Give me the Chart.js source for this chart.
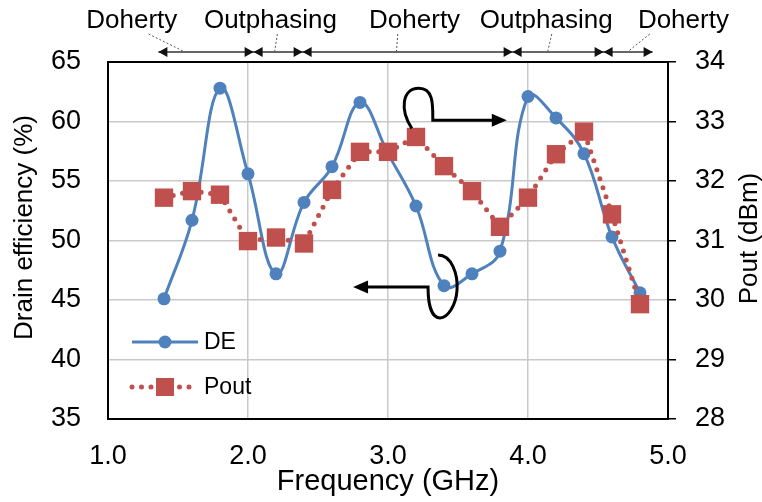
<!DOCTYPE html>
<html>
<head>
<meta charset="utf-8">
<script src="https://cdn.jsdelivr.net/npm/chart.js@4.4.1/dist/chart.umd.min.js"></script>
<style>
  html, body { margin: 0; padding: 0; background: #fff; }
  #wrap { width: 762px; height: 502px; }
</style>
</head>
<body>
<div id="wrap"><canvas id="chart" width="762" height="502"></canvas></div>
<script>
// frequency points (GHz)
const freqs = [1.4, 1.6, 1.8, 2.0, 2.2, 2.4, 2.6, 2.8, 3.0, 3.2, 3.4, 3.6, 3.8, 4.0, 4.2, 4.4, 4.6, 4.8];
// drain efficiency (%)
const deValues = [45.1, 51.7, 62.8, 55.6, 47.2, 53.2, 56.2, 61.6, 57.3, 52.9, 46.2, 47.2, 49.1, 62.1, 60.3, 57.3, 50.3, 45.6];
// output power (dBm)
const poutValues = [31.72, 31.83, 31.77, 30.99, 31.05, 30.95, 31.85, 32.49, 32.49, 32.74, 32.25, 31.83, 31.23, 31.72, 32.45, 32.83, 31.44, 29.93];

// operating modes along the top
const modeNames = ["Doherty", "Outphasing", "Doherty", "Outphasing", "Doherty"];
const modeBounds = [1.36, 2.04, 2.39, 3.89, 4.54, 4.89];
const modeLabelAt = [1.17, 2.16, 3.19, 4.13, 5.11];
const leaderTop = [1.29, 2.21, 3.07, 4.17, 4.87];
const leaderBottom = [1.55, 2.19, 3.06, 4.14, 4.71];

const deColor = "#4f81bd";
const poutColor = "#c0504d";
const gridColor = "#c9c9c9";
const fontFamily = "'Liberation Sans', Arial, sans-serif";

function arrowHead(ctx, x, y, dir, len, half) {
  ctx.beginPath();
  ctx.moveTo(x, y);
  ctx.lineTo(x - dir * len, y - half);
  ctx.lineTo(x - dir * len, y + half);
  ctx.closePath();
  ctx.fill();
}

const decorPlugin = {
  id: "decor",
  beforeDatasetsDraw(chart) {
    const { ctx, chartArea: a } = chart;
    ctx.save();
    ctx.strokeStyle = "#000";
    ctx.lineWidth = 2;
    ctx.strokeRect(a.left, a.top, a.right - a.left, a.bottom - a.top);
    ctx.restore();
  },
  afterDatasetsDraw(chart) {
    const { ctx, chartArea: a, scales } = chart;
    const X = v => scales.x.getPixelForValue(v);
    const Y = v => scales.yDE.getPixelForValue(v);
    ctx.save();

    // mode ranges above the plot
    const lineY = a.top - 10;
    ctx.strokeStyle = "#333";
    ctx.fillStyle = "#111";
    ctx.lineWidth = 1.5;
    ctx.beginPath();
    ctx.moveTo(X(modeBounds[0]), lineY);
    ctx.lineTo(X(modeBounds[modeBounds.length - 1]), lineY);
    ctx.stroke();
    for (let i = 0; i < modeNames.length; i++) {
      arrowHead(ctx, X(modeBounds[i]), lineY, -1, 9, 5);
      arrowHead(ctx, X(modeBounds[i + 1]), lineY, 1, 9, 5);
    }
    ctx.fillStyle = "#000";
    ctx.font = "26px " + fontFamily;
    ctx.textAlign = "center";
    ctx.textBaseline = "alphabetic";
    modeNames.forEach((name, i) => ctx.fillText(name, X(modeLabelAt[i]), lineY - 24));
    ctx.strokeStyle = "#555";
    ctx.lineWidth = 1;
    ctx.setLineDash([2, 2]);
    for (let i = 0; i < modeNames.length; i++) {
      ctx.beginPath();
      ctx.moveTo(X(leaderTop[i]), lineY - 18);
      ctx.lineTo(X(leaderBottom[i]), lineY);
      ctx.stroke();
    }
    ctx.setLineDash([]);

    // curved arrow pointing to the Pout axis
    ctx.strokeStyle = "#000";
    ctx.fillStyle = "#000";
    ctx.lineWidth = 3;
    let p = { x: X(3.32), y: Y(60.1) };
    ctx.beginPath();
    ctx.moveTo(p.x - 21, p.y + 8);
    ctx.bezierCurveTo(p.x - 33, p.y - 10, p.x - 31, p.y - 32, p.x - 14, p.y - 32);
    ctx.bezierCurveTo(p.x + 1, p.y - 32, p.x, p.y - 15, p.x, p.y);
    ctx.lineTo(p.x + 62, p.y);
    ctx.stroke();
    arrowHead(ctx, p.x + 74, p.y, 1, 15, 6.5);

    // curved arrow pointing to the DE axis
    p = { x: X(3.286), y: Y(46.1) };
    ctx.beginPath();
    ctx.moveTo(p.x + 10, p.y - 32);
    ctx.bezierCurveTo(p.x + 24, p.y - 32, p.x + 30, p.y - 12, p.x + 29, p.y + 3);
    ctx.bezierCurveTo(p.x + 28, p.y + 18, p.x + 20, p.y + 31, p.x + 12, p.y + 31);
    ctx.bezierCurveTo(p.x + 2, p.y + 31, p.x, p.y + 13, p.x, p.y);
    ctx.lineTo(p.x - 63, p.y);
    ctx.stroke();
    arrowHead(ctx, p.x - 75, p.y, -1, 15, 6.5);

    // legend inside the plot
    const lx = a.left + 24, ly1 = a.bottom - 77, ly2 = a.bottom - 32;
    ctx.strokeStyle = deColor;
    ctx.fillStyle = deColor;
    ctx.lineWidth = 3;
    ctx.beginPath();
    ctx.moveTo(lx, ly1);
    ctx.lineTo(lx + 66, ly1);
    ctx.stroke();
    ctx.beginPath();
    ctx.arc(lx + 33, ly1, 6.5, 0, Math.PI * 2);
    ctx.fill();
    ctx.strokeStyle = poutColor;
    ctx.fillStyle = poutColor;
    ctx.lineWidth = 5;
    ctx.lineCap = "round";
    ctx.setLineDash([0, 9.5]);
    ctx.beginPath();
    ctx.moveTo(lx, ly2);
    ctx.lineTo(lx + 62, ly2);
    ctx.stroke();
    ctx.setLineDash([]);
    ctx.fillRect(lx + 24, ly2 - 9, 18, 18);
    ctx.fillStyle = "#000";
    ctx.font = "23px " + fontFamily;
    ctx.textAlign = "left";
    ctx.textBaseline = "middle";
    ctx.fillText("DE", lx + 72, ly1 + 1);
    ctx.fillText("Pout", lx + 72, ly2 + 1);

    // axis titles
    const midY = (a.top + a.bottom) / 2;
    ctx.font = "26px " + fontFamily;
    ctx.textAlign = "center";
    ctx.save();
    ctx.translate(25, midY - 13);
    ctx.rotate(-Math.PI / 2);
    ctx.fillText("Drain efficiency (%)", 0, 0);
    ctx.restore();
    ctx.save();
    ctx.translate(chart.width - 12, midY - 2);
    ctx.rotate(-Math.PI / 2);
    ctx.fillText("Pout (dBm)", 0, 0);
    ctx.restore();

    ctx.restore();
  }
};

const tickFont = { family: fontFamily, size: 27 };

new Chart(document.getElementById("chart"), {
  type: "line",
  data: {
    datasets: [
      {
        label: "DE",
        data: freqs.map((f, i) => ({ x: f, y: deValues[i] })),
        yAxisID: "yDE",
        borderColor: deColor,
        backgroundColor: deColor,
        borderWidth: 3,
        pointRadius: 6.5,
        pointBorderWidth: 0,
        tension: 0.4,
        order: 1
      },
      {
        label: "Pout",
        data: freqs.map((f, i) => ({ x: f, y: poutValues[i] })),
        yAxisID: "yPout",
        borderColor: poutColor,
        backgroundColor: poutColor,
        borderWidth: 5,
        borderDash: [0, 9.5],
        borderCapStyle: "round",
        pointStyle: "rect",
        pointRadius: 13,
        pointBorderWidth: 0,
        tension: 0,
        order: 0
      }
    ]
  },
  options: {
    responsive: false,
    animation: false,
    events: [],
    layout: { padding: { top: 62, left: 0, right: 0, bottom: 0 } },
    plugins: { legend: { display: false }, tooltip: { enabled: false } },
    scales: {
      x: {
        type: "linear",
        min: 1,
        max: 5,
        ticks: { stepSize: 1, callback: v => v.toFixed(1), font: tickFont, color: "#000", padding: 21, maxRotation: 0, autoSkip: false },
        grid: { color: gridColor, lineWidth: 1.5, drawTicks: false },
        border: { display: false },
        title: { display: true, text: "Frequency (GHz)", color: "#000", font: { family: fontFamily, size: 29 }, padding: { top: 0, bottom: 3 } },
        afterFit: s => { s.height = 83; }
      },
      yDE: {
        position: "left",
        min: 35,
        max: 65,
        ticks: { stepSize: 5, font: tickFont, color: "#000", padding: 27 },
        grid: { color: gridColor, lineWidth: 1.5, drawTicks: false },
        border: { display: false },
        afterFit: s => { s.width = 108; }
      },
      yPout: {
        position: "right",
        min: 28,
        max: 34,
        ticks: { stepSize: 1, font: tickFont, color: "#000", padding: 19 },
        grid: { drawOnChartArea: false, drawTicks: true, tickLength: 8, color: "#000", lineWidth: 1.5 },
        border: { display: false },
        afterFit: s => { s.width = 94; }
      }
    }
  },
  plugins: [decorPlugin]
});
</script>
</body>
</html>
